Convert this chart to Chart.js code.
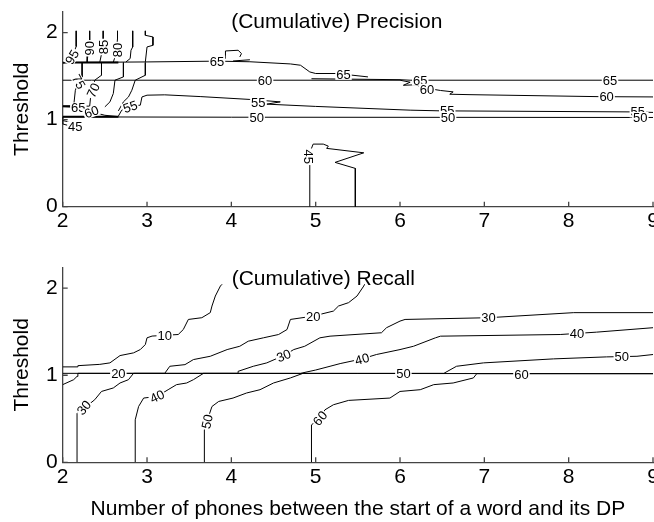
<!DOCTYPE html>
<html>
<head>
<meta charset="utf-8">
<script src="https://cdn.jsdelivr.net/npm/chart.js@4.4.1/dist/chart.umd.min.js"></script>
<style>
  html, body { margin: 0; padding: 0; background: #fff; overflow: hidden; }
  #wrap { position: relative; width: 654px; height: 522px; }
  .box { position: absolute; left: 0; width: 654px; }
  #topBox { top: 0; height: 240px; }
  #botBox { top: 250px; height: 272px; }
</style>
</head>
<body>
<div id="wrap">
  <div class="box" id="topBox"><canvas id="precisionChart" width="654" height="240"></canvas></div>
  <div class="box" id="botBox"><canvas id="recallChart" width="654" height="272"></canvas></div>
</div>
<script>
//========================= Data ==================================//
const xTicks = [2, 3, 4, 5, 6, 7, 8, 9];
const yTicks = [0, 1, 2];

// (Cumulative) Precision contours, [phones, threshold]
const prec95 = [[2.16, 2.02], [2.16, 1.84], [2.13, 1.77], [2.09, 1.70], [2.01, 1.645]];
const prec90 = [[2.32, 2.02], [2.32, 1.89], [2.32, 1.82], [2.30, 1.76], [2.29, 1.66]];
const prec85 = [[2.48, 2.02], [2.48, 1.88], [2.47, 1.80], [2.44, 1.66]];
const prec80 = [[2.65, 2.02], [2.65, 1.93], [2.64, 1.82], [2.62, 1.72], [2.60, 1.66]];
const prec75a = [[2.83, 2.02], [2.83, 1.835], [2.81, 1.797], [2.80, 1.702], [2.75, 1.663]];
const prec70a = [[2.98, 2.02], [2.98, 1.969], [3.07, 1.95], [3.07, 1.854], [3.00, 1.835], [2.98, 1.663]];
const prec75b = [[2.23, 1.656], [2.23, 1.49], [2.20, 1.453], [2.15, 1.338], [2.13, 1.155]];
const prec70b = [[2.46, 1.656], [2.46, 1.51], [2.38, 1.453], [2.36, 1.35], [2.33, 1.25], [2.32, 1.155]];
const prec65c = [[2.72, 1.656], [2.72, 1.491], [2.62, 1.453], [2.60, 1.30], [2.56, 1.204], [2.50, 1.147]];
const prec60c = [[2.98, 1.656], [2.98, 1.51], [2.86, 1.453], [2.82, 1.338], [2.78, 1.261], [2.72, 1.204], [2.66, 1.10]];
const prec65 = [[2.0, 1.656], [3.0, 1.663], [3.83, 1.672], [4.22, 1.665], [4.70, 1.64], [4.82, 1.625], [4.93, 1.548], [5.0, 1.53], [5.25, 1.53], [5.62, 1.491]];
const prec65bump = [[3.93, 1.70], [3.93, 1.789], [4.08, 1.797], [4.12, 1.759], [4.10, 1.72]];
const prec65tail = [[4.02, 1.674], [4.22, 1.688]];
const prec65right = [[4.95, 1.47], [6.0, 1.459], [6.12, 1.453], [9, 1.453]];
const prec60 = [[2.0, 1.453], [6.0, 1.453], [6.12, 1.43], [6.04, 1.395], [6.18, 1.40], [6.32, 1.36], [6.48, 1.335], [6.63, 1.319], [6.59, 1.292], [6.83, 1.287], [8.37, 1.264], [9, 1.261]];
const prec65low = [[2.0, 1.155], [2.32, 1.155]];
const prec60low = [[2.0, 1.150], [2.22, 1.14], [2.34, 1.09], [2.50, 1.05], [2.66, 1.035]];
const prec55 = [[2.66, 1.04], [2.70, 1.109], [2.80, 1.155], [2.92, 1.166], [2.94, 1.261], [3.0, 1.281], [3.21, 1.285], [3.63, 1.265], [4.22, 1.232], [4.58, 1.204], [4.42, 1.178], [5.0, 1.152], [6.12, 1.109], [6.48, 1.101], [8.73, 1.089], [9, 1.083]];
const prec50 = [[2.0, 1.032], [4.0, 1.028], [9, 1.025]];
const prec45a = [[2.0, 1.032], [2.0, 0.95], [2.08, 0.93]];
const prec45b = [[2.0, 0.99], [2.07, 0.975]];
const prec45island = [[4.93, 0], [4.93, 0.60], [4.95, 0.67], [4.97, 0.719], [5.09, 0.719], [5.15, 0.696], [5.13, 0.67], [5.57, 0.619], [5.23, 0.509], [5.47, 0.44], [5.47, 0]];
// edges where several contour levels pile up
const precEdges = [[[2.0, 1.656], [2.66, 1.656]], [[2.0, 1.032], [2.66, 1.032]], [[2.0, 1.155], [2.24, 1.155]]];

// [text, phones, threshold, angle]
const precLabels = [
  ['95', 2.11, 1.72, -60], ['90', 2.32, 1.82, -90], ['85', 2.48, 1.835, -90], ['80', 2.645, 1.80, -90],
  ['75', 2.19, 1.435, 60], ['70', 2.36, 1.338, -65], ['65', 2.185, 1.135, 0], ['60', 2.34, 1.09, -20],
  ['55', 2.80, 1.15, -20], ['45', 2.15, 0.917, 0], ['65', 3.83, 1.674, 0], ['60', 4.40, 1.453, 0],
  ['65', 5.33, 1.52, 0], ['65', 6.24, 1.453, 0], ['65', 8.49, 1.453, 0], ['60', 6.32, 1.35, 0],
  ['60', 8.45, 1.262, 0], ['55', 4.32, 1.193, 0], ['50', 4.30, 1.025, 0], ['55', 6.56, 1.101, 0],
  ['50', 6.57, 1.025, 0], ['55', 8.82, 1.089, 0], ['50', 8.85, 1.025, 0], ['45', 4.91, 0.573, 90]
];

// (Cumulative) Recall contours
const recBase = [[2.0, 1.022], [9, 1.018]];
const rec10 = [[2.0, 1.096], [2.17, 1.096], [2.18, 1.11], [2.44, 1.125], [2.56, 1.142], [2.68, 1.226], [2.84, 1.257], [2.92, 1.295], [2.98, 1.353], [3.0, 1.43], [3.06, 1.45], [3.37, 1.468], [3.43, 1.525], [3.49, 1.641], [3.65, 1.661], [3.75, 1.719], [3.77, 1.795], [3.81, 1.91], [3.87, 2.025], [3.89, 2.045]];
const rec20 = [[2.0, 0.892], [2.13, 0.949], [2.17, 0.987], [2.18, 1.022], [3.21, 1.022], [3.27, 1.103], [3.45, 1.122], [3.55, 1.18], [3.75, 1.218], [3.95, 1.295], [4.10, 1.333], [4.20, 1.391], [4.38, 1.43], [4.56, 1.468], [4.66, 1.525], [4.70, 1.641], [4.97, 1.679], [5.05, 1.699], [5.21, 1.737], [5.27, 1.795], [5.39, 1.834], [5.49, 1.91], [5.57, 2.025], [5.58, 2.045]];
const rec30 = [[2.17, 0], [2.17, 0.56], [2.20, 0.62], [2.28, 0.641], [2.38, 0.719], [2.46, 0.814], [2.60, 0.854], [2.68, 0.911], [2.78, 0.949], [2.84, 1.022], [4.08, 1.022], [4.08, 1.045], [4.26, 1.103], [4.42, 1.142], [4.62, 1.226], [4.74, 1.295], [4.87, 1.333], [5.05, 1.43], [5.17, 1.449], [5.78, 1.488], [5.84, 1.546], [6.0, 1.622], [6.06, 1.641], [7.05, 1.661], [8.06, 1.719], [9, 1.719]];
const rec40 = [[2.86, 0], [2.86, 0.488], [2.90, 0.641], [2.96, 0.738], [3.12, 0.757], [3.25, 0.834], [3.35, 0.892], [3.47, 0.911], [3.55, 0.949], [3.67, 1.022], [4.82, 1.022], [5.0, 1.06], [5.17, 1.103], [5.29, 1.134], [5.55, 1.188], [5.72, 1.238], [6.0, 1.295], [6.16, 1.333], [6.42, 1.43], [6.48, 1.449], [7.90, 1.468], [8.33, 1.495], [9, 1.546]];
const rec50 = [[3.68, 0], [3.68, 0.373], [3.71, 0.468], [3.77, 0.641], [3.85, 0.699], [4.02, 0.738], [4.18, 0.796], [4.34, 0.834], [4.50, 0.911], [4.70, 0.969], [4.85, 1.022], [6.52, 1.022], [6.67, 1.103], [6.99, 1.142], [7.82, 1.188], [8.45, 1.211], [8.81, 1.218], [9, 1.238]];
const rec60 = [[4.95, 0], [4.95, 0.43], [5.05, 0.507], [5.11, 0.603], [5.21, 0.661], [5.39, 0.711], [5.88, 0.738], [6.0, 0.814], [6.24, 0.834], [6.40, 0.892], [6.63, 0.911], [6.87, 0.969], [6.91, 1.018], [9, 1.018]];

const recLabels = [
  ['10', 3.21, 1.457, 0], ['20', 2.66, 1.02, 0], ['20', 4.97, 1.679, 0], ['30', 2.25, 0.63, -50],
  ['30', 4.62, 1.226, -22], ['30', 7.05, 1.661, 0], ['40', 3.12, 0.757, -25], ['40', 5.55, 1.188, -15],
  ['40', 8.10, 1.48, 0], ['50', 3.71, 0.468, -78], ['50', 6.04, 1.02, 0], ['50', 8.63, 1.211, 0],
  ['60', 5.05, 0.507, -50], ['60', 7.44, 1.015, 0]
];

//========================= Helpers ==================================//
const FONT = '"Liberation Sans", Arial, Helvetica, sans-serif';
const AXIS = '#444';

function toDataset(path, width) {
  return {
    data: path.map(p => ({ x: p[0], y: p[1] })),
    showLine: true,
    borderColor: '#000',
    borderWidth: width || 1,
    pointRadius: 0,
    tension: 0,
    fill: false
  };
}

// contour labels, heading and inward tick marks
const contourLabels = {
  id: 'contourLabels',
  afterDatasetsDraw(chart, args, opts) {
    const { ctx, scales: { x, y }, chartArea } = chart;
    ctx.save();
    ctx.font = '13px ' + FONT;
    ctx.textAlign = 'center';
    ctx.textBaseline = 'middle';
    opts.labels.forEach(([txt, vx, vy, rot]) => {
      const w = ctx.measureText(txt).width + 2;
      ctx.save();
      ctx.translate(x.getPixelForValue(vx), y.getPixelForValue(vy));
      ctx.rotate(rot * Math.PI / 180);
      ctx.fillStyle = '#fff';
      ctx.fillRect(-w / 2, -5.5, w, 11);
      ctx.fillStyle = '#000';
      ctx.fillText(txt, 0, 1);
      ctx.restore();
    });

    ctx.font = '21px ' + FONT;
    ctx.fillStyle = '#000';
    ctx.fillText(opts.heading, x.getPixelForValue(opts.headingAt[0]), y.getPixelForValue(opts.headingAt[1]));

    ctx.strokeStyle = AXIS;
    ctx.lineWidth = 1.3;
    ctx.beginPath();
    xTicks.forEach(v => {
      const px = x.getPixelForValue(v);
      ctx.moveTo(px, chartArea.bottom);
      ctx.lineTo(px, chartArea.bottom - 5);
    });
    yTicks.forEach(v => {
      const py = y.getPixelForValue(v);
      ctx.moveTo(chartArea.left, py);
      ctx.lineTo(chartArea.left + 5, py);
    });
    ctx.stroke();
    ctx.restore();
  }
};

function makeOptions(cfg) {
  return {
    responsive: false,
    animation: false,
    events: [],
    devicePixelRatio: 1,
    layout: { padding: { left: 0, right: 1, top: cfg.top, bottom: 0 } },
    plugins: {
      legend: { display: false },
      tooltip: { enabled: false },
      contourLabels: { labels: cfg.labels, heading: cfg.heading, headingAt: cfg.headingAt }
    },
    scales: {
      x: {
        type: 'linear',
        min: 2,
        max: 9,
        afterBuildTicks: s => { s.ticks = xTicks.map(v => ({ value: v })); },
        afterFit: s => { s.paddingLeft = 0; s.paddingRight = 0; s.height = cfg.xHeight; },
        ticks: { color: '#000', font: { family: FONT, size: 21 }, padding: 2, maxRotation: 0 },
        grid: { display: false, drawTicks: false },
        border: { display: true, color: AXIS, width: 1.3 },
        title: {
          display: !!cfg.xTitle,
          text: cfg.xTitle || '',
          color: '#000',
          font: { family: FONT, size: 21 },
          padding: { top: 0, bottom: 0 }
        }
      },
      y: {
        type: 'linear',
        min: 0,
        max: 2.24,
        afterBuildTicks: s => { s.ticks = yTicks.map(v => ({ value: v })); },
        afterFit: s => { s.paddingTop = 0; s.paddingBottom = 0; s.width = 62.7; },
        ticks: { color: '#000', font: { family: FONT, size: 21 }, padding: 5 },
        grid: { display: false, drawTicks: false },
        border: { display: true, color: AXIS, width: 1.3 },
        title: {
          display: true,
          text: 'Threshold',
          color: '#000',
          font: { family: FONT, size: 21 },
          padding: { top: 10, bottom: 0 }
        }
      }
    }
  };
}

//========================= Precision ==================================//
const precPaths = [prec95, prec90, prec85, prec80, prec75a, prec70a, prec75b, prec70b, prec65c, prec60c,
  prec65, prec65bump, prec65tail, prec65right, prec60, prec65low, prec60low, prec55, prec50,
  prec45a, prec45b, prec45island];

new Chart(document.getElementById('precisionChart'), {
  type: 'scatter',
  data: { datasets: precPaths.map(p => toDataset(p)).concat(precEdges.map(p => toDataset(p, 2))) },
  options: makeOptions({
    top: 11.7,
    xHeight: 33.3,
    labels: precLabels,
    heading: '(Cumulative) Precision',
    headingAt: [5.25, 2.12]
  }),
  plugins: [contourLabels]
});

//========================= Recall ==================================//
const recPaths = [recBase, rec10, rec20, rec30, rec40, rec50, rec60];

new Chart(document.getElementById('recallChart'), {
  type: 'scatter',
  data: { datasets: recPaths.map(p => toDataset(p)) },
  options: makeOptions({
    top: 17.3,
    xHeight: 59.7,
    labels: recLabels,
    heading: '(Cumulative) Recall',
    headingAt: [5.09, 2.10],
    xTitle: 'Number of phones between the start of a word and its DP'
  }),
  plugins: [contourLabels]
});
</script>
</body>
</html>
